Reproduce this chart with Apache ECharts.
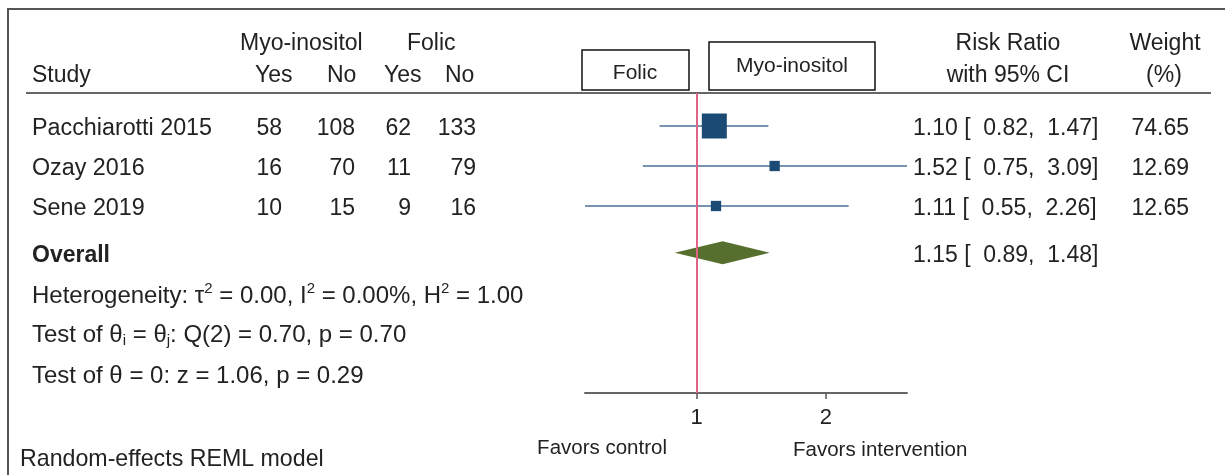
<!DOCTYPE html>
<html>
<head>
<meta charset="utf-8">
<script src="https://cdn.jsdelivr.net/npm/echarts@6/dist/echarts.min.js"></script>
<style>html,body{margin:0;padding:0;background:#fff;}</style>
</head>
<body>
<div id="main" style="width:1225px;height:475px;"></div>
<script>
// study table
var studies = ['Pacchiarotti 2015', 'Ozay 2016', 'Sene 2019'];
var myoYes = [58, 16, 10];
var myoNo = [108, 70, 15];
var folYes = [62, 11, 9];
var folNo = [133, 79, 16];
var riskRatio = [1.10, 1.52, 1.11];
var ciLow = [0.82, 0.75, 0.55];
var ciHigh = [1.47, 3.09, 2.26];
var weight = [74.65, 12.69, 12.65];
var studyRows = [1, 2, 3];
// overall: estimate, lower, upper
var overallRR = [1.15, 0.89, 1.48];
var overallRow = 4.17;
var statRows = [5.2, 6.18, 7.2];
var xTicks = [1, 2];
var axisMin = 0.55, axisMax = 3.09;

var FONT = "'Liberation Sans', Arial, sans-serif";
var INK = '#222';

var chart = echarts.init(document.getElementById('main'));

var studyData = studies.map(function (s, i) {
    return [riskRatio[i], ciLow[i], ciHigh[i], weight[i], studyRows[i]];
});

chart.setOption({
    animation: false,
    grid: { left: 585, width: 322, top: 93, height: 300 },
    xAxis: {
        type: 'value',
        min: Math.log(axisMin),
        max: Math.log(axisMax),
        splitLine: { show: false },
        axisLine: { lineStyle: { color: '#666', width: 2 } },
        axisTick: { customValues: xTicks.map(Math.log), length: 6, lineStyle: { color: '#555', width: 1.5 } },
        axisLabel: {
            customValues: xTicks.map(Math.log),
            formatter: function (v) { return String(Math.round(Math.exp(v))); },
            color: INK, fontSize: 22, fontFamily: FONT, margin: 14
        }
    },
    yAxis: { type: 'value', inverse: true, min: 0.175, max: 7.675, show: false },
    series: [
        {
            type: 'custom',
            data: studyData,
            renderItem: function (params, api) {
                var row = api.value(4);
                var lo = api.coord([Math.log(api.value(1)), row]);
                var hi = api.coord([Math.log(api.value(2)), row]);
                var c = api.coord([Math.log(api.value(0)), row]);
                var s = 25 * Math.sqrt(api.value(3) / 74.65);
                return {
                    type: 'group',
                    children: [
                        { type: 'line', shape: { x1: lo[0], y1: lo[1], x2: hi[0], y2: hi[1] },
                          style: { stroke: '#4b7093', lineWidth: 1.5 } },
                        { type: 'rect', shape: { x: c[0] - s / 2, y: c[1] - s / 2, width: s, height: s },
                          style: { fill: '#1b4a74' } }
                    ]
                };
            }
        },
        {
            type: 'custom',
            data: [[overallRR[0], overallRR[1], overallRR[2], overallRow]],
            renderItem: function (params, api) {
                var row = api.value(3);
                var lo = api.coord([Math.log(api.value(1)), row]);
                var hi = api.coord([Math.log(api.value(2)), row]);
                var c = api.coord([Math.log(api.value(0)), row]);
                var h = 11.5;
                return {
                    type: 'polygon',
                    shape: { points: [[lo[0], lo[1]], [c[0], c[1] - h], [hi[0], hi[1]], [c[0], c[1] + h]] },
                    style: { fill: '#566f2e' }
                };
            }
        },
        {
            type: 'line',
            data: [],
            z: 10,
            markLine: {
                silent: true,
                symbol: 'none',
                label: { show: false },
                lineStyle: { color: '#dc6585', width: 2, type: 'solid' },
                data: [{ xAxis: Math.log(1) }]
            }
        }
    ]
});

function rowY(r) {
    return chart.convertToPixel({ gridIndex: 0 }, [0, r])[1];
}
function txt(str, x, y, opt) {
    opt = opt || {};
    return {
        type: 'text', x: x, y: y + 2, z: 20,
        style: {
            text: str, fill: INK, fontFamily: FONT,
            fontSize: opt.size || 23, fontWeight: opt.weight || 'normal',
            align: opt.align || 'left', verticalAlign: 'middle', rich: opt.rich
        }
    };
}
function fmtCI(e, l, u) {
    return e.toFixed(2) + ' [  ' + l.toFixed(2) + ',  ' + u.toFixed(2) + ']';
}

var els = [];
// frame and header rule
els.push({ type: 'line', shape: { x1: 7, y1: 9, x2: 1225, y2: 9 }, style: { stroke: '#555', lineWidth: 2 } });
els.push({ type: 'line', shape: { x1: 8, y1: 9, x2: 8, y2: 475 }, style: { stroke: '#555', lineWidth: 2 } });
els.push({ type: 'line', shape: { x1: 26, y1: 93, x2: 1211, y2: 93 }, style: { stroke: '#666', lineWidth: 2 } });

// headers
els.push(txt('Myo-inositol', 240, 42));
els.push(txt('Folic', 407, 42));
els.push(txt('Study', 32, 74));
els.push(txt('Yes', 255, 74));
els.push(txt('No', 327, 74));
els.push(txt('Yes', 384, 74));
els.push(txt('No', 445, 74));
els.push(txt('Risk Ratio', 1008, 42, { align: 'center' }));
els.push(txt('with 95% CI', 1008, 74, { align: 'center' }));
els.push(txt('Weight', 1165, 42, { align: 'center' }));
els.push(txt('(%)', 1164, 74, { align: 'center' }));

// legend boxes
els.push({ type: 'rect', shape: { x: 582, y: 50, width: 107, height: 40 }, style: { fill: '#fff', stroke: '#111', lineWidth: 1.5 } });
els.push({ type: 'rect', shape: { x: 709, y: 42, width: 166, height: 48 }, style: { fill: '#fff', stroke: '#111', lineWidth: 1.5 } });
els.push(txt('Folic', 635, 71, { size: 21, align: 'center' }));
els.push(txt('Myo-inositol', 792, 64, { size: 21, align: 'center' }));

// study rows
studies.forEach(function (s, i) {
    var y = rowY(studyRows[i]) + 1;
    els.push(txt(s, 32, y, { size: 23.3 }));
    els.push(txt(String(myoYes[i]), 282, y, { align: 'right' }));
    els.push(txt(String(myoNo[i]), 355, y, { align: 'right' }));
    els.push(txt(String(folYes[i]), 411, y, { align: 'right' }));
    els.push(txt(String(folNo[i]), 476, y, { align: 'right' }));
    els.push(txt(fmtCI(riskRatio[i], ciLow[i], ciHigh[i]), 913, y));
    els.push(txt(weight[i].toFixed(2), 1189, y, { align: 'right' }));
});

var oy = rowY(overallRow) + 1;
els.push(txt('Overall', 32, oy, { weight: 'bold' }));
els.push(txt(fmtCI(overallRR[0], overallRR[1], overallRR[2]), 913, oy));

var rich = {
    a: { fontSize: 24, fontFamily: FONT, fill: INK },
    sup: { fontSize: 15, fontFamily: FONT, fill: INK, padding: [0, 0, 14, 0] },
    sub: { fontSize: 15, fontFamily: FONT, fill: INK, padding: [12, 0, 0, 0] }
};
els.push(txt('{a|Heterogeneity: \u03c4}{sup|2}{a| = 0.00, I}{sup|2}{a| = 0.00%, H}{sup|2}{a| = 1.00}', 32, rowY(statRows[0]), { rich: rich }));
els.push(txt('{a|Test of \u03b8}{sub|i}{a| = \u03b8}{sub|j}{a|: Q(2) = 0.70, p = 0.70}', 32, rowY(statRows[1]), { rich: rich }));
els.push(txt('Test of \u03b8 = 0: z = 1.06, p = 0.29', 32, rowY(statRows[2]), { size: 24 }));

els.push(txt('Random-effects REML model', 20, 458, { size: 23.2 }));
els.push(txt('Favors control', 667, 446, { size: 20.5, align: 'right' }));
els.push(txt('Favors intervention', 793, 448, { size: 20.5 }));

chart.setOption({ graphic: { elements: els } });
</script>
</body>
</html>
